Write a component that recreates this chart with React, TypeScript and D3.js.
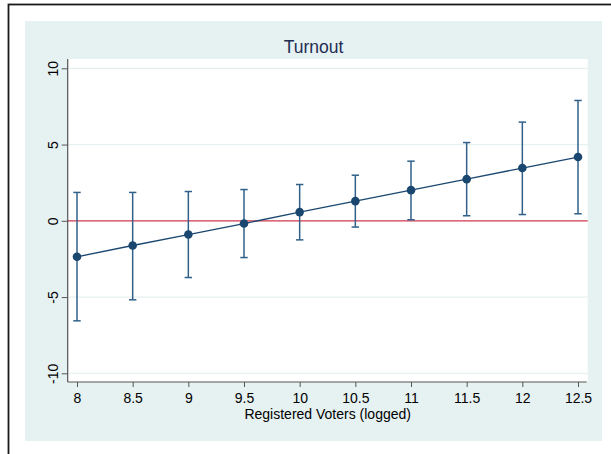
import React, { useEffect, useRef } from 'react';
import * as d3 from 'd3';

// Predictive margins of turnout by registered voters (logged)
const voters = [8, 8.5, 9, 9.5, 10, 10.5, 11, 11.5, 12, 12.5];
const margins = [-2.36, -1.62, -0.9, -0.18, 0.57, 1.29, 2.01, 2.73, 3.46, 4.18];
const upperCI = [1.86, 1.86, 1.92, 2.05, 2.38, 2.99, 3.91, 5.13, 6.47, 7.89];
const lowerCI = [-6.56, -5.18, -3.72, -2.41, -1.25, -0.41, 0.07, 0.33, 0.41, 0.46];

const xTicks = [8, 8.5, 9, 9.5, 10, 10.5, 11, 11.5, 12, 12.5];
const yTicks = [-10, -5, 0, 5, 10];

const chartTitle = 'Turnout';
const xTitle = 'Registered Voters (logged)';

const App = () => {
  const ref = useRef<SVGSVGElement>(null);

  useEffect(() => {
    const svg = d3.select(ref.current);
    svg.selectAll('*').remove();

    const font = '"Liberation Sans", Arial, sans-serif';
    const navy = '#1a476f';

    // plot region
    const left = 67.7;
    const right = 587.7;
    const top = 59;
    const bottom = 382;

    const x = d3.scaleLinear().domain([8, 12.5]).range([77, 578]);
    const y = d3.scaleLinear().domain([-10, 10]).range([373.3, 68.3]);

    // outer frame
    svg
      .append('rect')
      .attr('x', 8.5)
      .attr('y', 4.5)
      .attr('width', 800)
      .attr('height', 700)
      .attr('fill', '#fff')
      .attr('stroke', '#1a1a1a')
      .attr('stroke-width', 1.8);

    // graph background
    svg
      .append('rect')
      .attr('x', 25)
      .attr('y', 21)
      .attr('width', 577)
      .attr('height', 420)
      .attr('fill', '#e6f1f2');

    // plot background
    svg
      .append('rect')
      .attr('x', left)
      .attr('y', top)
      .attr('width', right - left)
      .attr('height', bottom - top)
      .attr('fill', '#fff');

    // gridlines
    svg
      .append('g')
      .selectAll('line')
      .data(yTicks.filter((d) => d !== 0))
      .enter()
      .append('line')
      .attr('x1', left)
      .attr('x2', right)
      .attr('y1', (d) => y(d))
      .attr('y2', (d) => y(d))
      .attr('stroke', '#e6f1f2')
      .attr('stroke-width', 1.2);

    // reference line at 0
    svg
      .append('line')
      .attr('x1', left)
      .attr('x2', right)
      .attr('y1', y(0))
      .attr('y2', y(0))
      .attr('stroke', '#d0394f')
      .attr('stroke-width', 1.3);

    // axes
    const yAxis = svg
      .append('g')
      .attr('transform', `translate(${left},0)`)
      .call(d3.axisLeft(y).tickValues(yTicks).tickSize(6).tickFormat((d) => String(d)));
    yAxis.attr('font-family', font).attr('font-size', 14);
    yAxis.select('.domain').attr('d', `M0,${top}V${bottom}`).attr('stroke', '#555').attr('stroke-width', 1.2);
    yAxis.selectAll('.tick line').attr('stroke', '#555');
    yAxis
      .selectAll('.tick text')
      .attr('transform', 'rotate(-90)')
      .attr('x', 0)
      .attr('y', -10)
      .attr('dy', 0)
      .attr('text-anchor', 'middle')
      .attr('fill', '#000');

    const xAxis = svg
      .append('g')
      .attr('transform', `translate(0,${bottom})`)
      .call(d3.axisBottom(x).tickValues(xTicks).tickSize(5).tickPadding(6).tickFormat((d) => String(d)));
    xAxis.attr('font-family', font).attr('font-size', 14);
    xAxis.select('.domain').attr('d', `M${left},0H${right - 1}`).attr('stroke', '#555').attr('stroke-width', 1.2);
    xAxis.selectAll('.tick line').attr('stroke', '#555');
    xAxis.selectAll('.tick text').attr('fill', '#000');

    // confidence intervals
    const ci = svg.append('g').attr('stroke', '#30618a').attr('stroke-width', 1.5);
    voters.forEach((v, i) => {
      const cx = x(v);
      ci.append('line').attr('x1', cx).attr('x2', cx).attr('y1', y(upperCI[i])).attr('y2', y(lowerCI[i]));
      ci.append('line').attr('x1', cx - 3.7).attr('x2', cx + 3.7).attr('y1', y(upperCI[i])).attr('y2', y(upperCI[i]));
      ci.append('line').attr('x1', cx - 3.7).attr('x2', cx + 3.7).attr('y1', y(lowerCI[i])).attr('y2', y(lowerCI[i]));
    });

    // margins line and markers
    const line = d3
      .line<number>()
      .x((d, i) => x(voters[i]))
      .y((d) => y(d));
    svg
      .append('path')
      .datum(margins)
      .attr('d', line)
      .attr('fill', 'none')
      .attr('stroke', navy)
      .attr('stroke-width', 1.3);

    svg
      .append('g')
      .selectAll('circle')
      .data(margins)
      .enter()
      .append('circle')
      .attr('cx', (d, i) => x(voters[i]))
      .attr('cy', (d) => y(d))
      .attr('r', 4.3)
      .attr('fill', navy);

    // titles
    svg
      .append('text')
      .attr('x', 313.5)
      .attr('y', 52.5)
      .attr('text-anchor', 'middle')
      .attr('fill', '#1e2d53')
      .style('font-family', font)
      .style('font-size', '17.5px')
      .text(chartTitle);

    svg
      .append('text')
      .attr('x', (left + right) / 2)
      .attr('y', 418.5)
      .attr('text-anchor', 'middle')
      .attr('fill', '#000')
      .style('font-family', font)
      .style('font-size', '14px')
      .text(xTitle);
  }, []);

  return (
    <div style={{ position: 'absolute', left: 0, top: 0 }}>
      <svg ref={ref} width="611" height="454" style={{ display: 'block' }}></svg>
    </div>
  );
};

export default App;
